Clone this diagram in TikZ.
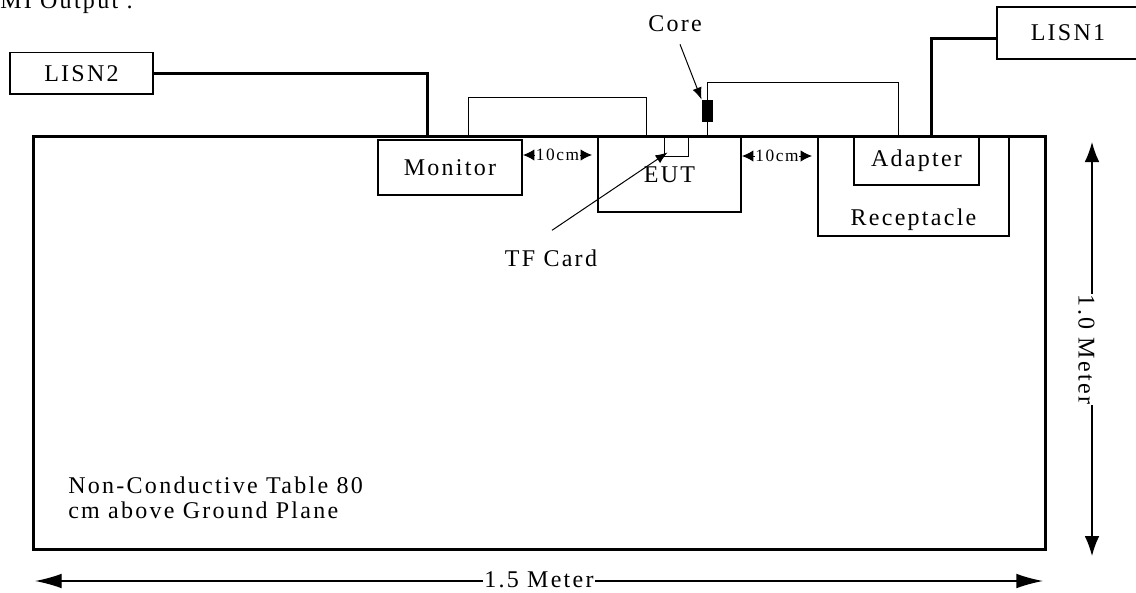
\documentclass[tikz,border=0pt]{standalone}
\usepackage{fontspec}
\setmainfont{Liberation Serif}[LetterSpace=9.5]
\usetikzlibrary{arrows.meta}
\newcommand\lblfont{\fontsize{18}{18.75}\selectfont}
\newcommand\gapfont{\fontsize{13}{14}\selectfont}
\tikzset{
  box/.style={draw, line width=1pt, inner sep=0pt, font=\lblfont},
  txt/.style={inner sep=0pt, font=\lblfont},
  wire/.style={line width=2.25pt},
  cable/.style={line width=0.75pt},
  pointer/.style={line width=0.75pt, -{Latex[length=9pt,width=7pt]}},
  gapdim/.style={line width=0.75pt, {Latex[length=8.5pt,width=8.5pt]}-{Latex[length=8.5pt,width=8.5pt]}},
  hdim/.style={line width=1pt, {Latex[length=20pt,width=11pt]}-{Latex[length=20pt,width=11pt]}},
  vdim/.style={line width=1pt, {Latex[length=15pt,width=11pt]}-{Latex[length=15pt,width=11pt]}},
  dimtext/.style={fill=white, inner sep=1pt, font=\lblfont}
}
\begin{document}
\begin{tikzpicture}[x=0.75pt,y=0.75pt,yscale=-1]
\useasboundingbox (0,0) rectangle (1136,593);

% Text Node
\node[txt, anchor=base west] (title) at (0,8) {MI Output :};

%Shape: Rectangle (table)
\draw[wire] (33,136) rectangle (1045,549);
% Text Node
\node[txt, anchor=west, align=left] (tableNote) at (68,498) {Non-Conductive Table 80\\cm above Ground Plane};

%Shape: Rectangle
\node[box, minimum width=107.25pt, minimum height=31.1pt] (lisnTwo) at (81.5,73.25) {LISN2};
\node[box, minimum width=106.5pt, minimum height=39pt] (lisnOne) at (1068,33) {LISN1};
\node[box, minimum width=108pt, minimum height=41.25pt] (monitor) at (450,167.5) {Monitor};
\node[box, minimum width=107.25pt, minimum height=56.25pt] (eut) at (669.5,174.5) {EUT};
\node[box, line width=0.75pt, minimum width=18pt, minimum height=15pt] (tfcard) at (676,146) {};
\node[box, minimum width=143.25pt, minimum height=74.25pt,
  label={[txt, anchor=south, shift={(0,5.8)}]south:Receptacle}] (receptacle) at (913.5,186.5) {};
\node[box, minimum width=93.75pt, minimum height=36pt] (adapter) at (916.5,161) {Adapter};

% plugs on the table edge
\coordinate (monPlug) at (427,136);
\coordinate (adpPlug) at (931,136);
\coordinate (monJack) at (468,136);
\coordinate (eutJack) at (646,136);
\coordinate (eutOut) at (707,136);
\coordinate (adpJack) at (898,136);

%Straight Lines (power cords)
\draw[wire] (lisnTwo.east) -| (monPlug);
\draw[wire] (adpPlug) |- ([shift={(0,5)}]lisnOne.west);
%Straight Lines (signal cables)
\draw[cable] (monJack) -- ++(0,-39) -| (eutJack);
\draw[cable] (eutOut) -- ++(0,-54) -| (adpJack);
%Shape: Rectangle (core)
\node[draw, fill=black, line width=0.75pt, inner sep=0pt, minimum width=7.5pt, minimum height=15.75pt] (core) at (707,110.5) {};

% Text Node
\node[txt] (coreLabel) at (675,24) {Core};
\draw[pointer] ([shift={(5,12)}]coreLabel.south) -- (core.north west);
% Text Node
\node[txt] (tfLabel) at (551,258) {TF Card};
\draw[pointer] ([shift={(1,-19)}]tfLabel.north) -- ([shift={(4,-4)}]tfcard.south west);

%Straight Lines (10cm gaps)
\draw[gapdim] (523,155) -- (592,155) node[midway, fill=white, inner sep=0.5pt, font=\gapfont] (gapOne) {10cm};
\draw[gapdim] (742,156) -- (812,156) node[midway, fill=white, inner sep=0.5pt, font=\gapfont] (gapTwo) {10cm};

%Straight Lines (dimensions)
\draw[hdim] (35,581) -- (1043,581);
\node[dimtext] (widthLabel) at (539,579.5) {1.5 Meter};
\draw[vdim] (1092,142) -- (1092,556);
\node[dimtext, rotate=-90] (heightLabel) at (1086.5,349.5) {1.0 Meter};

\end{tikzpicture}
\end{document}
